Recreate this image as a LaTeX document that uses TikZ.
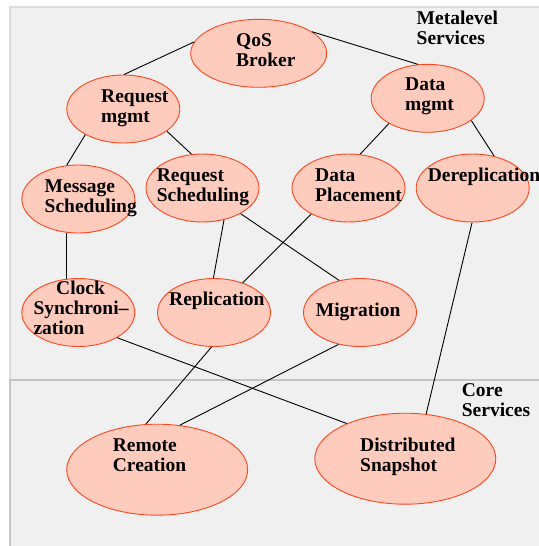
\documentclass[tikz,border=0pt]{standalone}
\usepackage{fontspec}
\setmainfont{Liberation Serif}
\definecolor{PanelColor}{RGB}{240,240,240}
\definecolor{PanelEdge}{RGB}{220,220,220}
\definecolor{CoreEdge}{RGB}{196,196,196}
\definecolor{ServiceColor}{RGB}{255,203,188}
\definecolor{ServiceEdge}{RGB}{250,72,32}
\usetikzlibrary{shapes.geometric}
\tikzstyle{service} = [ellipse, draw=ServiceEdge, fill=ServiceColor, line width=0.9pt, inner sep=0pt, minimum width=113pt, minimum height=68pt]
\tikzstyle{bigservice} = [service, minimum width=181pt, minimum height=91pt]
% base west = baseline of the last line
\tikzstyle{tag} = [anchor=base west, inner sep=0pt, align=left, font=\fontsize{19.5}{20}\selectfont\bfseries]
\tikzstyle{link} = [black, line width=0.9pt]

\begin{document}
\begin{tikzpicture}[x=1pt, y=-1pt]
  \useasboundingbox (0,0) rectangle (538,546);

  % Panels
  \draw[PanelEdge, fill=PanelColor, line width=1.5pt] (10,7) rectangle (560,380);
  \draw[CoreEdge, fill=PanelColor, line width=2.5pt] (10,380) rectangle (560,570);
  \node[tag] (metaT) at (416.5,44.8) {Metalevel\\Services};
  \node[tag] (coreT) at (461.7,416) {Core\\Services};

  % Metalevel services
  \node[service, minimum width=136pt] (qos) at (258.7,53.3) {};
  \node[service] (reqmgmt) at (123.3,109) {};
  \node[service] (datamgmt) at (427.7,98.3) {};
  \node[service] (msgsched) at (78.3,199) {};
  \node[service] (reqsched) at (202.5,188) {};
  \node[service] (dataplace) at (348.5,188) {};
  \node[service] (derep) at (472.7,188) {};
  \node[service] (clock) at (78.3,312.5) {};
  \node[service] (repl) at (214,312.5) {};
  \node[service] (migr) at (360,312.5) {};

  % Core services
  \node[bigservice] (remote) at (157.2,469.7) {};
  \node[bigservice] (snapshot) at (405.3,458.7) {};

  % Names
  \node[tag] (qosT) at (236,66) {QoS\\Broker};
  \node[tag] (reqmgmtT) at (101,122.7) {Request\\mgmt};
  \node[tag] (datamgmtT) at (405,110.5) {Data\\mgmt};
  \node[tag] (msgschedT) at (44.5,212.7) {Message\\Scheduling};
  \node[tag] (reqschedT) at (156.7,201.7) {Request\\Scheduling};
  \node[tag] (dataplaceT) at (315,201.7) {Data\\Placement};
  \node[tag] (derepT) at (427.7,181.7) {Dereplication};
  \node[tag] (clockT) at (33.3,334) {\hspace*{22.7pt}Clock\\Synchroni–\\zation};
  \node[tag] (replT) at (169,305.5) {Replication};
  \node[tag] (migrT) at (315.7,316.7) {Migration};
  \node[tag] (remoteT) at (112.7,471.7) {Remote\\Creation};
  \node[tag] (snapshotT) at (360,471.7) {Distributed\\Snapshot};

  % Links
  \draw[link] (qos.170) -- (reqmgmt.89);
  \draw[link] (qos.22) -- (datamgmt.106);
  \draw[link] (reqmgmt.214) -- (msgsched.109);
  \draw[link] (reqmgmt.333) -- (reqsched.108);
  \draw[link] (datamgmt.213) -- (dataplace.71);
  \draw[link] (datamgmt.333) -- (derep.56);
  \draw[link] (msgsched.251) -- (clock.109);
  \draw[link] (reqsched.304) -- (repl.91);
  \draw[link] (reqsched.326) -- (migr.123);
  \draw[link] (dataplace.215) -- (repl.46);
  \draw[link] (derep.269) -- (snapshot.65);
  \draw[link] (clock.327) -- (snapshot.149);
  \draw[link] (repl.266) -- (remote.104);
  \draw[link] (migr.236) -- (remote.63);
\end{tikzpicture}
\end{document}
